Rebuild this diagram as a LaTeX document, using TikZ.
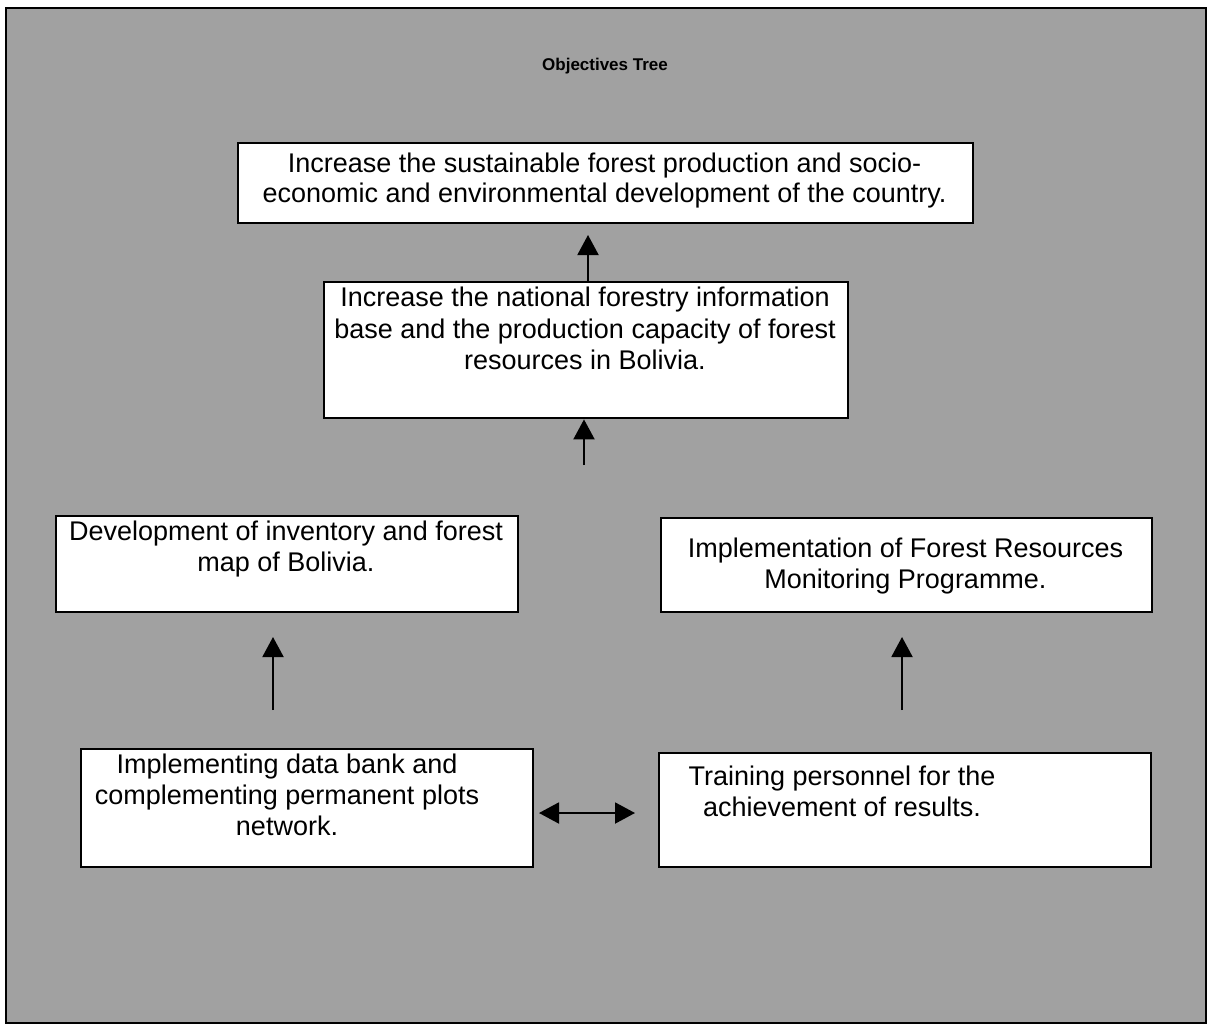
\documentclass[tikz,border=0pt]{standalone}
\usepackage{fontspec}
\setmainfont{Liberation Sans}
\usetikzlibrary{arrows.meta}
\definecolor{bggray}{gray}{0.63}
\begin{document}
\begin{tikzpicture}[x=0.5pt,y=-0.5pt,
  box/.style={draw=black, line width=1.2pt, fill=white, inner sep=0pt, anchor=north west},
  txt/.style={align=center, inner sep=0pt, anchor=north, font=\fontsize{13.5pt}{15.5pt}\selectfont},
  arr/.style={line width=1pt, -{Triangle[width=10.5pt,length=10pt]}},
  darr/.style={line width=1pt, {Triangle[width=10.5pt,length=10pt]}-{Triangle[width=10.5pt,length=10pt]}}]
\useasboundingbox (0,0) rectangle (1209,1028);
\fill[white] (0,0) rectangle (1209,1028);
\draw[fill=bggray, line width=1pt] (6,8) rectangle (1206,1023);

\node[font=\fontsize{8.5pt}{10pt}\selectfont\bfseries, inner sep=0pt] (title) at (605,66) {Objectives Tree};

\node[box, minimum width=367.5pt, minimum height=40pt] (b1) at (237,142) {};
\node[box, minimum width=262pt, minimum height=68pt] (b2) at (323,281) {};
\node[box, minimum width=231pt, minimum height=48pt] (b3) at (55,515) {};
\node[box, minimum width=245.5pt, minimum height=47pt] (b4) at (660,517) {};
\node[box, minimum width=226pt, minimum height=59pt] (b5) at (80,748) {};
\node[box, minimum width=246pt, minimum height=57pt] (b6) at (658,752) {};

\node[txt, font=\fontsize{13.5pt}{15pt}\selectfont] (t1) at (604.5,153) {Increase the sustainable forest production and socio-\\economic and environmental development of the country.};
\node[txt, font=\fontsize{13.5pt}{15.75pt}\selectfont] (t2) at (585,287) {Increase the national forestry information\\base and the production capacity of forest\\resources in Bolivia.};
\node[txt] (t3) at (286,521) {Development of inventory and forest\\map of Bolivia.};
\node[txt] (t4) at (905.5,538) {Implementation of Forest Resources\\Monitoring Programme.};
\node[txt] (t5) at (287,754) {Implementing data bank and\\complementing permanent plots\\network.};
\node[txt] (t6) at (842,766) {Training personnel for the\\achievement of results.};

\coordinate (e1) at (588,235);
\draw[arr] (e1 |- b2.north) -- (e1);
\coordinate (s2) at (584,465);
\draw[arr] (s2) -- (s2 |- b2.south);
\coordinate (s3) at (273,710);
\coordinate (e3) at (273,637);
\draw[arr] (s3) -- (e3);
\coordinate (s4) at (902,710);
\coordinate (e4) at (902,637);
\draw[arr] (s4) -- (e4);
\coordinate (l5) at (539,813);
\coordinate (r5) at (635,813);
\draw[darr] (l5) -- (r5);
\end{tikzpicture}
\end{document}
